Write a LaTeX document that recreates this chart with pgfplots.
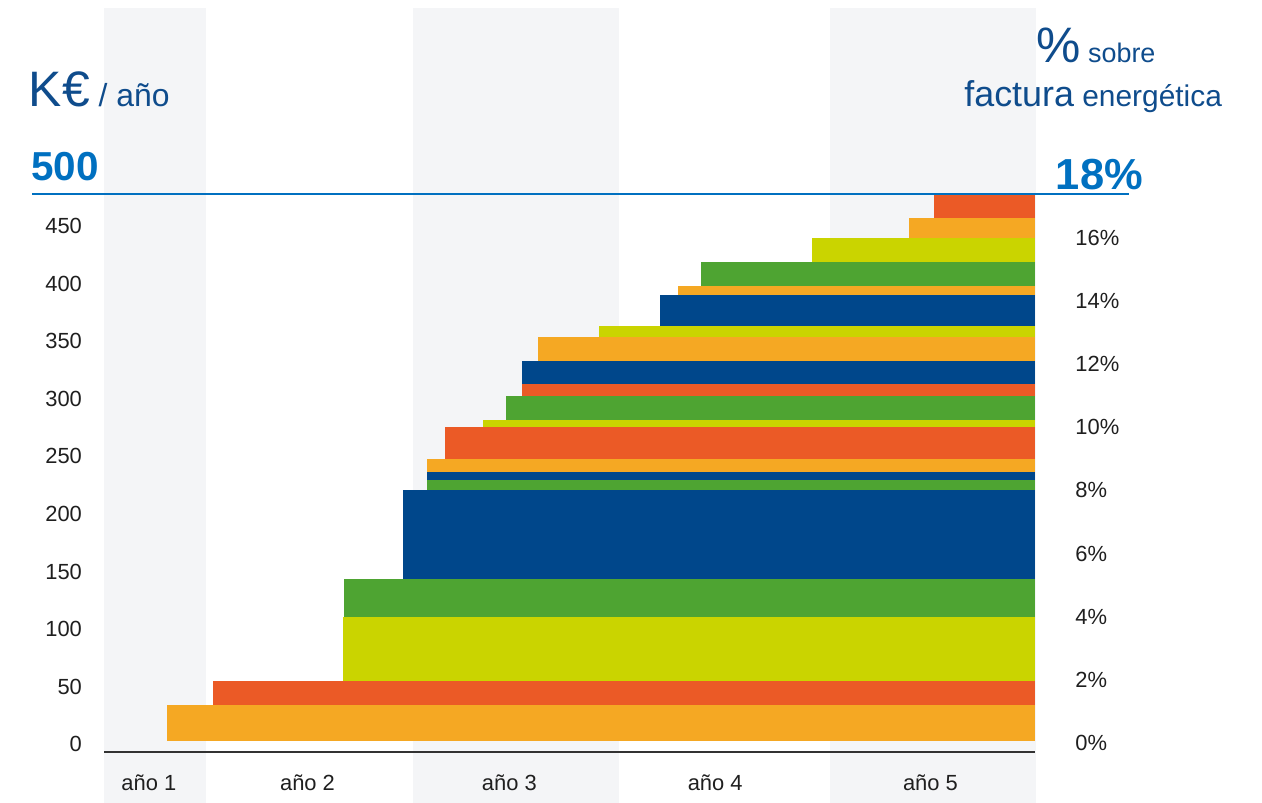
\documentclass[border=0pt]{standalone}
\usepackage{pgfplots}
\pgfplotsset{compat=1.18}
\usepackage{fontspec}
\setmainfont{Liberation Sans}
\definecolor{cOr}{RGB}{245,168,35}
\definecolor{cRd}{RGB}{235,90,38}
\definecolor{cYg}{RGB}{202,212,0}
\definecolor{cGr}{RGB}{78,164,50}
\definecolor{cBl}{RGB}{0,71,139}
\definecolor{cBand}{RGB}{244,245,247}
\definecolor{cDark}{RGB}{15,76,140}
\definecolor{cBright}{RGB}{0,112,192}
\definecolor{cBase}{RGB}{50,50,50}
\newcommand{\barrect}[4]{\addplot[draw=none,fill=#1] coordinates {(#2,#3) (4.517,#3) (4.517,#4) (#2,#4)};}
\newcommand{\band}[2]{\addplot[draw=none,fill=cBand] coordinates {(#1,-51.09) (#2,-51.09) (#2,639.5) (#1,639.5)};}
\begin{document}
\begin{tikzpicture}
\path[use as bounding box] (0,0) rectangle (631bp,401.5bp);
\begin{axis}[
  at={(52bp,0bp)}, anchor=south west,
  scale only axis, width=466bp, height=397.5bp,
  xmin=0, xmax=4.5243, ymin=-51.09, ymax=639.5,
  clip=false, axis on top,
  axis line style={draw=none},
  tick style={draw=none}, major tick length=0pt,
  xtick={0.218,0.988,1.968,2.967,4.012},
  xticklabels={año 1,año 2,año 3,año 4,año 5},
  xticklabel style={anchor=base, yshift=6.5bp, inner sep=0pt, font=\fontsize{11}{13}\selectfont, text=black!88},
  ytick={0,50,100,150,200,250,300,350,400,450},
  yticklabels={0,50,100,150,200,250,300,350,400,450},
  yticklabel style={anchor=east, xshift=-10.85bp, inner sep=0pt, font=\fontsize{11}{13}\selectfont, text=black!88},
]
% background year bands
\band{0}{0.4937}
\band{1.4985}{2.4985}
\band{3.524}{4.523}
% bars: start (years), bottom, top (K€/año)
\barrect{cOr}{0.307}{2.8}{34.1}
\barrect{cRd}{0.527}{34.1}{54.9}
\barrect{cYg}{1.162}{54.9}{110.5}
\barrect{cGr}{1.167}{110.5}{143.5}
\barrect{cBl}{1.450}{143.5}{220.9}
\barrect{cGr}{1.566}{220.9}{229.5}
\barrect{cBl}{1.566}{229.5}{236.5}
\barrect{cOr}{1.566}{236.5}{247.8}
\barrect{cRd}{1.654}{247.8}{275.2}
\barrect{cYg}{1.838}{275.2}{281.7}
\barrect{cGr}{1.951}{281.7}{302.5}
\barrect{cRd}{2.029}{302.5}{313.0}
\barrect{cBl}{2.029}{313.0}{333.2}
\barrect{cOr}{2.107}{333.2}{353.8}
\barrect{cYg}{2.401}{353.8}{363.3}
\barrect{cBl}{2.699}{363.3}{390.5}
\barrect{cOr}{2.786}{390.5}{398.1}
\barrect{cGr}{2.897}{398.1}{418.9}
\barrect{cYg}{3.435}{418.9}{439.8}
\barrect{cOr}{3.908}{439.8}{457.2}
\barrect{cRd}{4.029}{457.2}{477.8}
% baseline and top rule
\addplot[cBase, line width=1bp] coordinates {(0,-6.52) (4.517,-6.52)};
\addplot[cBright, line width=0.7bp] coordinates {(-0.3495,477.8) (4.976,477.8)};
\end{axis}
\begin{axis}[
  at={(52bp,0bp)}, anchor=south west,
  scale only axis, width=466bp, height=397.5bp,
  xmin=0, xmax=4.5243, ymin=-1.900, ymax=23.278,
  axis line style={draw=none},
  tick style={draw=none}, major tick length=0pt,
  xtick=\empty,
  ytick={0,2,4,6,8,10,12,14,16},
  yticklabels={0\%,2\%,4\%,6\%,8\%,10\%,12\%,14\%,16\%},
  yticklabel pos=right,
  yticklabel style={anchor=west, xshift=19.5bp, inner sep=0pt, font=\fontsize{11}{13}\selectfont, text=black!88},
]
\end{axis}
\begin{scope}[x=0.5bp, y=-0.5bp, yshift=401.5bp]
\node[anchor=base west, inner sep=0pt, text=cDark] at (28.5,107)
  {{\fontsize{25}{30}\selectfont K€}{\fontsize{16}{20}\selectfont\ / año}};
\node[anchor=base west, inner sep=0pt, text=cBright, font=\fontsize{20.3}{24}\selectfont\bfseries] at (31,181) {500};
\node[anchor=base west, inner sep=0pt, text=cBright, font=\fontsize{21.8}{26}\selectfont\bfseries] at (1055.5,189.5) {18\%};
\node[anchor=base west, inner sep=0pt, text=cDark] at (1036,63)
  {{\fontsize{25}{30}\selectfont \%}{\fontsize{13.5}{16}\selectfont\ sobre}};
\node[anchor=base west, inner sep=0pt, text=cDark] at (964,107)
  {{\fontsize{18}{22}\selectfont factura}{\fontsize{15}{18}\selectfont\ energética}};
\end{scope}
\end{tikzpicture}
\end{document}
